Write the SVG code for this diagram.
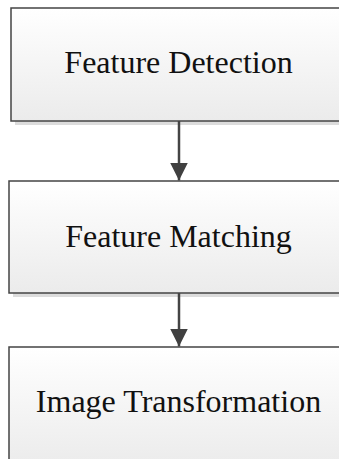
<svg xmlns="http://www.w3.org/2000/svg" width="339" height="459" viewBox="0 0 339 459">
<defs>
<linearGradient id="g" x1="0" y1="0" x2="0" y2="1">
<stop offset="0" stop-color="#ffffff"/>
<stop offset="1" stop-color="#ebebeb"/>
</linearGradient>
<marker id="ah" markerUnits="userSpaceOnUse" markerWidth="20" markerHeight="22" refX="18" refY="9" orient="auto">
<path d="M0,0 L18,9 L0,18 Z" fill="#404040"/>
</marker>
<style>
.shadow{fill:#dcdcdc}
.box{fill:url(#g);stroke:#444;stroke-width:1.5}
.lbl{font-family:"Liberation Serif","Times New Roman",serif;font-size:32px;fill:#111;text-anchor:middle}
.con{stroke:#444;stroke-width:2.5;fill:none}
</style>
</defs>
<rect width="339" height="459" fill="#ffffff"/>
<g id="n1">
<rect class="shadow" x="15" y="12" width="340" height="113"/>
<rect class="box" x="11" y="8" width="336" height="113"/>
<text class="lbl" x="178.5" y="73">Feature Detection</text>
</g>
<g id="n2">
<rect class="shadow" x="13" y="185" width="340" height="112"/>
<rect class="box" x="9" y="181" width="340" height="112"/>
<text class="lbl" x="178.5" y="246.5">Feature Matching</text>
</g>
<g id="n3">
<rect class="shadow" x="13" y="351" width="340" height="120"/>
<rect class="box" x="9" y="347" width="340" height="120"/>
<text class="lbl" x="178.5" y="411.5">Image Transformation</text>
</g>
<g id="connectors">
<line class="con" x1="179" y1="121" x2="179" y2="180.5" marker-end="url(#ah)"/>
<line class="con" x1="179" y1="293" x2="179" y2="346.5" marker-end="url(#ah)"/>
</g>
</svg>
